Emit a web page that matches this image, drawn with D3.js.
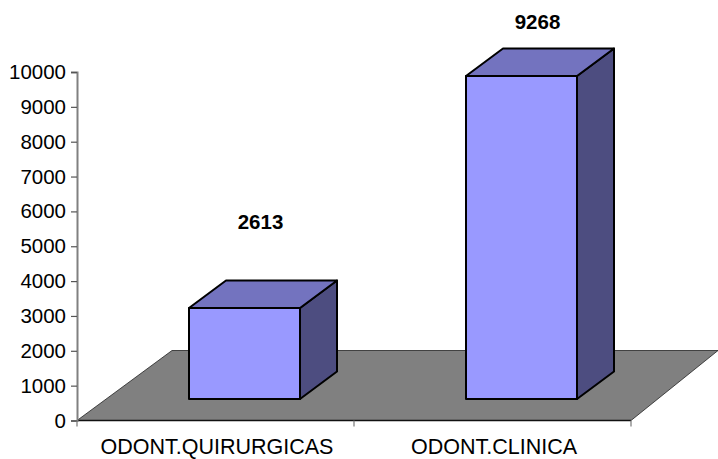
<!DOCTYPE html>
<html>
<head>
<meta charset="utf-8">
<script src="https://cdn.jsdelivr.net/npm/d3@7"></script>
<style>
  html, body { margin: 0; padding: 0; background: #fff; }
  text { font-family: "Liberation Sans", Arial, sans-serif; fill: #000; }
</style>
</head>
<body>
<svg id="main-svg" width="718" height="459"></svg>
<script>
const categories = ['ODONT.QUIRURGICAS', 'ODONT.CLINICA'];
const values = [2613, 9268];
const yTicks = [0, 1000, 2000, 3000, 4000, 5000, 6000, 7000, 8000, 9000, 10000];

const svg = d3.select('#main-svg');

const x = d3.scaleBand().domain(categories).range([77, 631]);
const y = d3.scaleLinear().domain([0, 10000]).range([420.5, 72]);

const fontSize = 20.5;
const catFontSize = 21.5;

// 3D offsets of the fake perspective
const floorDx = 95, floorDy = -70;
const barDx = 37, barDy = -27.5;
const barInset = 112, barWidth = 111, barLift = 21.5;

// floor
const x0 = x.range()[0], x1 = x.range()[1], y0 = y(0);
svg.append('path')
    .attr('d', `M${x0},${y0}L${x1},${y0}L${x1 + 87},${y0 + floorDy}L${x0 + floorDx},${y0 + floorDy}Z`)
    .attr('fill', '#808080')
    .attr('stroke', '#222')
    .attr('stroke-width', 0.8);
svg.append('line')
    .attr('x1', x0).attr('x2', x1).attr('y1', y0).attr('y2', y0)
    .attr('stroke', '#111').attr('stroke-width', 1.5);

// y axis
const yAxis = svg.append('g')
    .attr('transform', `translate(${x0},0)`)
    .call(d3.axisLeft(y).tickValues(yTicks).tickSize(6).tickPadding(5).tickFormat(d3.format('d')));
yAxis.selectAll('text').attr('font-size', fontSize).style('font-family', '"Liberation Sans", Arial, sans-serif');
yAxis.selectAll('line').attr('stroke', '#555').attr('stroke-width', 1.2);
yAxis.select('.domain').attr('stroke', '#808080').attr('stroke-width', 2);

// x axis ticks and labels
const xAxis = svg.append('g').attr('transform', `translate(0,${y0})`);
xAxis.selectAll('line')
    .data([x0, x(categories[1]), x1])
    .enter()
    .append('line')
    .attr('x1', d => d).attr('x2', d => d)
    .attr('y1', 0).attr('y2', 6)
    .attr('stroke', '#777').attr('stroke-width', 1.2);
xAxis.selectAll('text')
    .data(categories)
    .enter()
    .append('text')
    .attr('x', d => x(d) + x.bandwidth() / 2 + 1.5)
    .attr('y', 33.8)
    .attr('text-anchor', 'middle')
    .attr('font-size', catFontSize)
    .text(d => d);

// bars
const bars = svg.selectAll('g.bar')
    .data(categories.map((c, i) => ({ c, v: values[i] })))
    .enter()
    .append('g')
    .attr('class', 'bar')
    .attr('stroke', '#000')
    .attr('stroke-width', 2)
    .attr('stroke-linejoin', 'round');

const bl = d => x(d.c) + barInset;
const br = d => bl(d) + barWidth;
const bb = () => y(0) - barLift;
const bt = d => y(d.v) - barLift;

bars.append('path') // side
    .attr('fill', '#4D4D80')
    .attr('d', d => `M${br(d)},${bb()}L${br(d) + barDx},${bb() + barDy}L${br(d) + barDx},${bt(d) + barDy}L${br(d)},${bt(d)}Z`);
bars.append('path') // top
    .attr('fill', '#7373BF')
    .attr('d', d => `M${bl(d)},${bt(d)}L${bl(d) + barDx},${bt(d) + barDy}L${br(d) + barDx},${bt(d) + barDy}L${br(d)},${bt(d)}Z`);
bars.append('rect') // front
    .attr('fill', '#9999FF')
    .attr('x', bl)
    .attr('y', bt)
    .attr('width', barWidth)
    .attr('height', d => bb() - bt(d));

// value labels
const valueLabelGap = [79, 47.5];
bars.append('text')
    .attr('x', d => bl(d) + barWidth / 2 + 16)
    .attr('y', (d, i) => bt(d) - valueLabelGap[i])
    .attr('text-anchor', 'middle')
    .attr('font-size', fontSize)
    .attr('font-weight', 'bold')
    .attr('stroke', 'none')
    .text(d => d.v);
</script>
</body>
</html>
